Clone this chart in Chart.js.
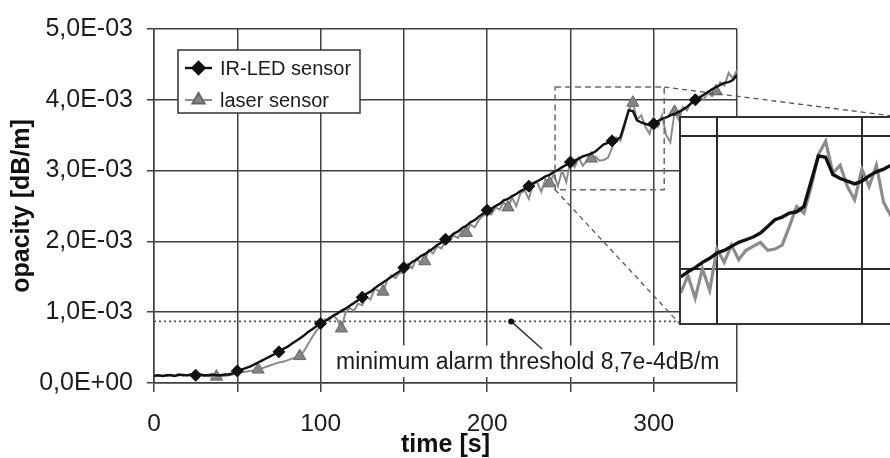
<!DOCTYPE html>
<html><head><meta charset="utf-8">
<script src="https://cdn.jsdelivr.net/npm/chart.js@4/dist/chart.umd.min.js"></script>
<style>
html,body{margin:0;padding:0;background:#fff;overflow:hidden;width:890px;height:458px;}
#wrap{position:relative;width:890px;height:458px;overflow:hidden;}
#main{position:absolute;left:0;top:0;}
#insetBox{position:absolute;left:679px;top:116px;width:222px;height:209px;box-sizing:border-box;border:2px solid #333;background:#fff;}
#inset{display:block;}
</style></head><body>
<div id="wrap">
<canvas id="main" width="890" height="458"></canvas>
<div id="insetBox"><canvas id="inset" width="218" height="205"></canvas></div>
</div>
<script>
// ---- data (opacity values in units of 1e-3 dB/m) ----
const times = [0,2.5,5,7.5,10,12.5,15,17.5,20,22.5,25,27.5,30,32.5,35,37.5,40,42.5,45,47.5,
50,52.5,55,57.5,60,62.5,65,67.5,70,72.5,75,77.5,80,82.5,85,87.5,90,92.5,95,97.5,
100,102.5,105,107.5,110,112.5,115,117.5,120,122.5,125,127.5,130,132.5,135,137.5,140,142.5,145,147.5,
150,152.5,155,157.5,160,162.5,165,167.5,170,172.5,175,177.5,180,182.5,185,187.5,190,192.5,195,197.5,
200,202.5,205,207.5,210,212.5,215,217.5,220,222.5,225,227.5,230,232.5,235,237.5,240,242.5,245,247.5,
250,252.5,255,257.5,260,262.5,265,267.5,270,272.5,275,277.5,280,282.5,285,287.5,290,292.5,295,297.5,
300,302.5,305,307.5,310,312.5,315,317.5,320,322.5,325,327.5,330,332.5,335,337.5,340,342.5,345,347.5,350];

const irLedMilli = [0.10,0.11,0.10,0.11,0.11,0.10,0.12,0.11,0.11,0.12,0.11,0.12,0.11,0.11,0.12,0.11,0.11,0.12,0.12,0.14,
0.17,0.19,0.21,0.23,0.26,0.29,0.32,0.35,0.38,0.41,0.44,0.48,0.51,0.55,0.59,0.63,0.67,0.72,0.76,0.80,
0.84,0.87,0.91,0.95,0.98,1.02,1.05,1.09,1.13,1.17,1.21,1.26,1.29,1.34,1.38,1.42,1.46,1.50,1.54,1.58,
1.63,1.66,1.71,1.74,1.79,1.82,1.86,1.90,1.95,1.98,2.03,2.06,2.11,2.14,2.19,2.22,2.27,2.30,2.35,2.39,
2.44,2.46,2.50,2.53,2.58,2.60,2.64,2.67,2.71,2.74,2.78,2.82,2.85,2.88,2.92,2.94,2.98,3.01,3.05,3.08,
3.12,3.14,3.17,3.20,3.22,3.24,3.27,3.32,3.37,3.39,3.42,3.43,3.47,3.66,3.85,3.84,3.71,3.68,3.66,3.64,
3.66,3.70,3.73,3.75,3.78,3.80,3.83,3.86,3.90,3.95,4.00,4.03,4.07,4.11,4.15,4.18,4.21,4.24,4.25,4.28,4.35];

const laserMilli = [0.10,0.11,0.10,0.10,0.12,0.10,0.11,0.12,0.11,0.11,0.10,0.11,0.10,0.10,0.09,0.09,0.10,0.10,0.11,0.12,
0.14,0.15,0.16,0.17,0.18,0.19,0.21,0.23,0.25,0.27,0.29,0.30,0.32,0.34,0.36,0.38,0.45,0.55,0.65,0.74,
0.80,0.90,0.88,0.95,0.90,0.77,1.00,1.06,1.02,1.12,1.10,1.22,1.18,1.33,1.30,1.29,1.45,1.52,1.48,1.56,
1.55,1.68,1.62,1.76,1.70,1.72,1.88,1.83,1.93,1.90,2.00,2.02,2.08,2.05,2.16,2.12,2.24,2.20,2.30,2.36,
2.40,2.38,2.48,2.45,2.55,2.48,2.62,2.50,2.68,2.72,2.60,2.80,2.84,2.70,2.88,2.82,2.95,2.78,3.00,2.84,
3.15,3.05,3.18,3.07,3.14,3.17,3.20,3.14,3.15,3.18,3.32,3.47,3.42,3.62,3.86,3.96,3.72,3.78,3.62,3.52,
3.75,3.62,3.78,3.50,3.40,3.83,3.72,3.90,3.85,3.98,3.95,4.05,4.00,4.10,4.05,4.12,4.25,4.20,4.38,4.30,4.42];

const irLedMarkerTimes = [25,50,75,100,125,150,175,200,225,250,275,300,325];
const laserMarkerTimes = [37.5,62.5,87.5,112.5,137.5,162.5,187.5,212.5,237.5,262.5,287.5,312.5,337.5];
const THRESHOLD = 8.7e-4;
const thresholdLabel = 'minimum alarm threshold 8,7e-4dB/m';
const seriesLabels = ['IR-LED sensor', 'laser sensor'];
const xTitle = 'time [s]';
const yTitle = 'opacity [dB/m]';

// ---- helpers ----
const MILLI = 1e-3;
const toPoints = arr => times.map((t, i) => ({x: t, y: arr[i] * MILLI}));
const irLed = toPoints(irLedMilli);
const laser = toPoints(laserMilli);
const FONT = "'Liberation Sans', Arial, Helvetica, sans-serif";
const INK = '#1c1c1c';
const GRID = '#404040';

function sciLabel(v) {
  if (Math.abs(v) < 1e-12) return '0,0E+00';
  const e = Math.floor(Math.log10(Math.abs(v)) + 1e-9);
  const m = v / Math.pow(10, e);
  return m.toFixed(1).replace('.', ',') + 'E' + (e < 0 ? '-' : '+') + String(Math.abs(e)).padStart(2, '0');
}

// annotation geometry in data coordinates
const ZOOM_RECT = {t0: 240.8, t1: 306.3, v0: 2.73e-3, v1: 4.18e-3};
const NOTE = {dotT: 214.4, dotV: THRESHOLD, endT: 233, endV: 0.48e-3,
  boxT0: 101, boxT1: 348.5, boxV0: 0.085e-3, boxV1: 0.53e-3, textT: 224.4, textV: 0.29e-3};

const annotations = {
  id: 'annotations',
  beforeDatasetsDraw(chart) {
    const {ctx, scales: {x, y}} = chart;
    ctx.save();
    ctx.fillStyle = '#fff';
    const bx0 = x.getPixelForValue(NOTE.boxT0), bx1 = x.getPixelForValue(NOTE.boxT1);
    const by0 = y.getPixelForValue(NOTE.boxV1), by1 = y.getPixelForValue(NOTE.boxV0);
    ctx.fillRect(bx0, by0, bx1 - bx0, by1 - by0);
    ctx.restore();
  },
  afterDatasetsDraw(chart) {
    const {ctx, scales: {x, y}} = chart;
    ctx.save();
    ctx.fillStyle = INK;
    ctx.font = '23px ' + FONT;
    ctx.textAlign = 'center';
    ctx.textBaseline = 'middle';
    ctx.fillText(thresholdLabel, x.getPixelForValue(NOTE.textT), y.getPixelForValue(NOTE.textV));
    const dx = x.getPixelForValue(NOTE.dotT), dy = y.getPixelForValue(NOTE.dotV);
    ctx.strokeStyle = '#333'; ctx.lineWidth = 1.5;
    ctx.beginPath(); ctx.moveTo(dx, dy);
    ctx.lineTo(x.getPixelForValue(NOTE.endT), y.getPixelForValue(NOTE.endV)); ctx.stroke();
    ctx.fillStyle = '#111';
    ctx.beginPath(); ctx.arc(dx, dy, 3, 0, Math.PI * 2); ctx.fill();
    const rx0 = x.getPixelForValue(ZOOM_RECT.t0), rx1 = x.getPixelForValue(ZOOM_RECT.t1);
    const ry0 = y.getPixelForValue(ZOOM_RECT.v1), ry1 = y.getPixelForValue(ZOOM_RECT.v0);
    ctx.strokeStyle = '#6a6a6a'; ctx.lineWidth = 1.5; ctx.setLineDash([6, 4]);
    ctx.strokeRect(rx0, ry0, rx1 - rx0, ry1 - ry0);
    const box = document.getElementById('insetBox');
    const ix0 = box.offsetLeft, iy0 = box.offsetTop;
    const ix1 = ix0 + box.offsetWidth, iy1 = iy0 + box.offsetHeight;
    ctx.setLineDash([5, 4]); ctx.lineWidth = 1.3; ctx.strokeStyle = '#555';
    ctx.beginPath(); ctx.moveTo(rx0, ry1); ctx.lineTo(ix0 + 1, iy1 - 1); ctx.stroke();
    ctx.beginPath(); ctx.moveTo(rx1, ry0); ctx.lineTo(ix1, iy0 + 1); ctx.stroke();
    ctx.restore();
  },
  afterDraw(chart) {
    const {ctx, chartArea: a} = chart;
    const ds = chart.data.datasets;
    const bx = a.left + 24, by = a.top + 21, bw = 182, bh = 63;
    ctx.save();
    ctx.fillStyle = '#fff'; ctx.fillRect(bx, by, bw, bh);
    ctx.strokeStyle = '#333'; ctx.lineWidth = 1.5; ctx.strokeRect(bx, by, bw, bh);
    ctx.font = '20px ' + FONT; ctx.textAlign = 'left'; ctx.textBaseline = 'middle';
    [0, 1].forEach((k, row) => {
      const d = ds[k];
      const ly = by + 18 + row * 32;
      ctx.strokeStyle = d.borderColor; ctx.lineWidth = d.borderWidth;
      ctx.beginPath(); ctx.moveTo(bx + 7, ly); ctx.lineTo(bx + 34, ly); ctx.stroke();
      ctx.fillStyle = d.pointBackgroundColor; ctx.strokeStyle = d.pointBorderColor;
      Chart.helpers.drawPoint(ctx, {pointStyle: d.pointStyle, radius: d.markerRadius, borderWidth: 1, rotation: 0}, bx + 20.5, ly);
      ctx.fillStyle = INK;
      ctx.fillText(d.label, bx + 42, ly + 1);
    });
    ctx.restore();
  }
};

const markerRadius = (list, r) => ctx => list.includes(times[ctx.dataIndex]) ? r : 0;

new Chart(document.getElementById('main'), {
  type: 'line',
  data: {
    datasets: [
      {label: seriesLabels[0], data: irLed, borderColor: '#111', borderWidth: 2.4,
       pointStyle: 'rectRot', markerRadius: 6, pointRadius: markerRadius(irLedMarkerTimes, 6),
       pointBackgroundColor: '#111', pointBorderColor: '#111', pointBorderWidth: 1, tension: 0},
      {label: seriesLabels[1], data: laser, borderColor: '#8c8c8c', borderWidth: 2,
       pointStyle: 'triangle', markerRadius: 7, pointRadius: markerRadius(laserMarkerTimes, 7),
       pointBackgroundColor: '#858585', pointBorderColor: '#666', pointBorderWidth: 1, tension: 0},
      {label: 'threshold', data: [{x: 0, y: THRESHOLD}, {x: 350, y: THRESHOLD}],
       borderColor: '#555', borderWidth: 1.6, borderDash: [2, 3], pointRadius: 0}
    ]
  },
  options: {
    responsive: false, animation: false, devicePixelRatio: 1,
    layout: {padding: {top: 26, right: 153, left: 0, bottom: 0}, autoPadding: false},
    plugins: {legend: {display: false}, tooltip: {enabled: false}},
    elements: {point: {hitRadius: 0, hoverRadius: 0}},
    scales: {
      x: {type: 'linear', min: 0, max: 350,
        afterFit: s => { s.height = 75; },
        ticks: {stepSize: 50, autoSkip: false, maxRotation: 0, color: INK, padding: 18,
          font: {family: FONT, size: 24.5},
          callback: v => (v % 100 === 0 ? String(v) : '')},
        grid: {color: GRID, lineWidth: 1.5, tickLength: 9, tickColor: GRID},
        border: {color: GRID, width: 1.5},
        title: {display: true, text: xTitle, color: '#111', padding: {top: 0, bottom: 0},
          font: {family: FONT, size: 25, weight: 'bold', lineHeight: 1}}
      },
      y: {type: 'linear', min: 0, max: 5e-3,
        afterFit: s => { s.width = 154; },
        ticks: {stepSize: 1e-3, color: INK, padding: 14, font: {family: FONT, size: 25},
          callback: v => sciLabel(v)},
        grid: {color: GRID, lineWidth: 1.5, tickLength: 7, tickColor: GRID},
        border: {color: GRID, width: 1.5},
        title: {display: true, text: yTitle, color: '#111', padding: {top: 10, bottom: 0},
          font: {family: FONT, size: 25, weight: 'bold', lineHeight: 1}}
      }
    }
  },
  plugins: [annotations]
});

// ---- inset (magnified view of the peak region) ----
const INSET_X = {min: 237.6, max: 312.8, grid: [250, 300]};
const INSET_Y = {min: 2.594e-3, max: 4.135e-3, grid: [3e-3, 4e-3]};
new Chart(document.getElementById('inset'), {
  type: 'line',
  data: {datasets: [
    {data: irLed, borderColor: '#111', borderWidth: 3.4, pointRadius: 0, tension: 0},
    {data: laser, borderColor: '#8c8c8c', borderWidth: 3.2, pointRadius: 0, tension: 0}
  ]},
  options: {
    responsive: false, animation: false, devicePixelRatio: 1,
    layout: {padding: 0, autoPadding: false},
    plugins: {legend: {display: false}, tooltip: {enabled: false}},
    scales: {
      x: {type: 'linear', min: INSET_X.min, max: INSET_X.max,
        afterBuildTicks: s => { s.ticks = INSET_X.grid.map(v => ({value: v})); },
        ticks: {display: false}, grid: {drawTicks: false, color: '#2a2a2a', lineWidth: 2},
        border: {display: false}},
      y: {type: 'linear', min: INSET_Y.min, max: INSET_Y.max,
        afterBuildTicks: s => { s.ticks = INSET_Y.grid.map(v => ({value: v})); },
        ticks: {display: false}, grid: {drawTicks: false, color: '#2a2a2a', lineWidth: 2},
        border: {display: false}}
    }
  }
});
</script>
</body></html>
